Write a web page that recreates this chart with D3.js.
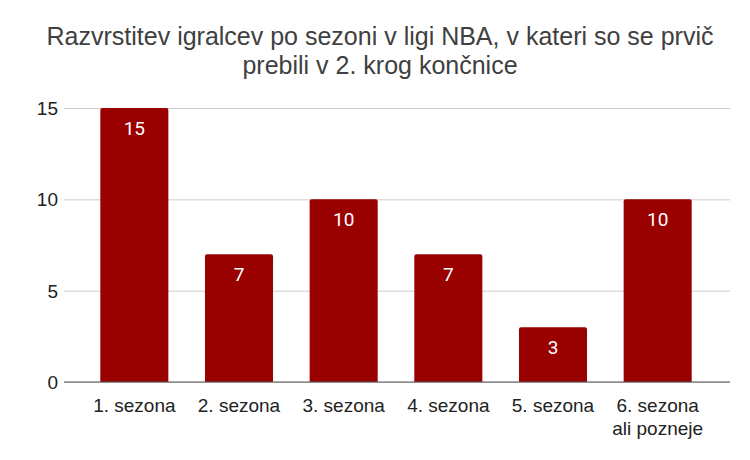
<!DOCTYPE html>
<html>
<head>
<meta charset="utf-8">
<script src="https://cdn.jsdelivr.net/npm/d3@7"></script>
<style>
  body { margin: 0; background: #fff; }
  svg { display: block; }
</style>
</head>
<body>
<div id="chart"></div>
<script>
const titleLines = ['Razvrstitev igralcev po sezoni v ligi NBA, v kateri so se prvič', 'prebili v 2. krog končnice'];
const seasons = ['1. sezona', '2. sezona', '3. sezona', '4. sezona', '5. sezona', '6. sezona\nali pozneje'];
const players = [15, 7, 10, 7, 3, 10];
const yTicks = [0, 5, 10, 15];

const width = 750;
const height = 460;

const svg = d3.select('#chart')
  .append('svg')
  .attr('width', width)
  .attr('height', height);

// title
svg.append('text')
  .attr('text-anchor', 'middle')
  .style('font-family', 'Arial, "Liberation Sans", sans-serif')
  .style('font-size', '25px')
  .attr('fill', '#404040')
  .selectAll('tspan')
  .data(titleLines)
  .join('tspan')
  .attr('x', 380)
  .attr('y', (d, i) => 45 + i * 29)
  .text((d) => d);

const xScale = d3.scaleBand()
  .domain(seasons)
  .range([82, 710])
  .paddingInner(0.35)
  .paddingOuter(0.175);

const yScale = d3.scaleLinear()
  .domain([0, 15])
  .range([382, 108]);

// gridlines
svg.append('g')
  .attr('class', 'gridlines')
  .attr('transform', 'translate(64, 0)')
  .call(d3.axisLeft(yScale).tickValues(yTicks).tickFormat('').tickSize(-666))
  .call((g) => g.select('.domain').remove())
  .call((g) => g.selectAll('line').attr('stroke', '#cccccc'));

// y labels
svg.append('g')
  .selectAll('text')
  .data(yTicks)
  .join('text')
  .attr('x', 58)
  .attr('y', (d) => yScale(d) + 7)
  .attr('text-anchor', 'end')
  .style('font-family', 'Arial, "Liberation Sans", sans-serif')
  .style('font-size', '19px')
  .attr('fill', '#222')
  .text((d) => d);

// bars
const bw = xScale.bandwidth();
svg.append('g')
  .selectAll('path')
  .data(players)
  .join('path')
  .attr('fill', '#990000')
  .attr('d', (d, i) => {
    const x = xScale(seasons[i]);
    const y = yScale(d);
    const y0 = yScale(0);
    const r = 2;
    return `M${x},${y0}V${y + r}Q${x},${y} ${x + r},${y}H${x + bw - r}Q${x + bw},${y} ${x + bw},${y + r}V${y0}Z`;
  });

// value labels
svg.append('g')
  .selectAll('text')
  .data(players)
  .join('text')
  .attr('x', (d, i) => xScale(seasons[i]) + bw / 2)
  .attr('y', (d) => yScale(d) + 27)
  .attr('text-anchor', 'middle')
  .style('font-family', 'Roboto, sans-serif')
  .style('font-size', '19px')
  .attr('fill', '#ffffff')
  .text((d) => d);

// baseline
svg.append('line')
  .attr('x1', 64)
  .attr('x2', 730)
  .attr('y1', yScale(0))
  .attr('y2', yScale(0))
  .attr('stroke', '#555')
  .attr('stroke-width', 1.2);

// x labels
svg.append('g')
  .selectAll('text')
  .data(seasons)
  .join('text')
  .attr('text-anchor', 'middle')
  .style('font-family', 'Arial, "Liberation Sans", sans-serif')
  .style('font-size', '19px')
  .attr('fill', '#222')
  .each(function (d) {
    const cx = xScale(d) + bw / 2;
    d3.select(this)
      .selectAll('tspan')
      .data(d.split('\n'))
      .join('tspan')
      .attr('x', cx)
      .attr('y', (t, i) => 412 + i * 23)
      .text((t) => t);
  });
</script>
</body>
</html>
